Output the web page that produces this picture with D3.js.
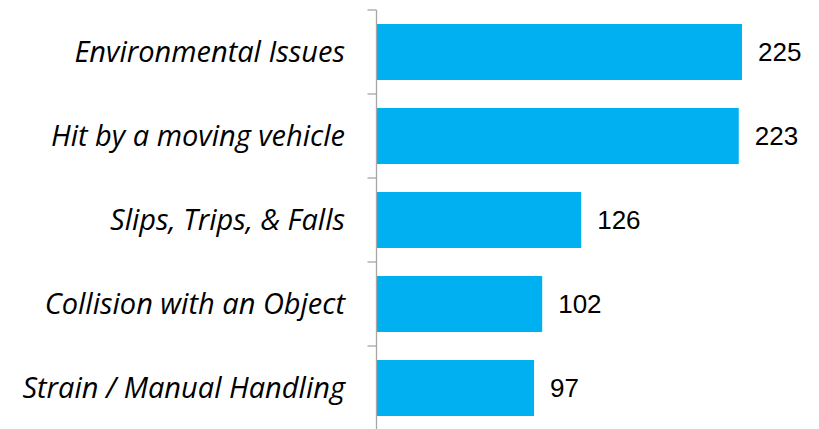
<!DOCTYPE html>
<html>
<head>
<meta charset="utf-8">
<script src="https://cdn.jsdelivr.net/npm/d3@7"></script>
<style>
  body { margin: 0; background: #fff; }
</style>
</head>
<body>
<div id="chart"></div>
<script>
var categories = [
  "Environmental Issues",
  "Hit by a moving vehicle",
  "Slips, Trips, & Falls",
  "Collision with an Object",
  "Strain / Manual Handling"
];
var counts = [225, 223, 126, 102, 97];

var width = 819, height = 429;
var margin = { top: 10, right: 0, bottom: -1, left: 376.5 };

var svg = d3.select("#chart").append("svg")
  .attr("width", width)
  .attr("height", height);

var x = d3.scaleLinear()
  .domain([0, 225])
  .range([margin.left, 742]);

var y = d3.scaleBand()
  .domain(categories)
  .range([margin.top, height - margin.bottom])
  .paddingInner(1 / 3)
  .paddingOuter(1 / 6);

// category boundaries for the tick marks
var step = y.step();
var bounds = d3.range(categories.length + 1).map(function (i) {
  return margin.top + i * step;
});

svg.selectAll("rect.bar")
  .data(counts)
  .enter().append("rect")
  .attr("class", "bar")
  .attr("x", x(0))
  .attr("y", function (d, i) { return y(categories[i]); })
  .attr("width", function (d) { return x(d) - x(0); })
  .attr("height", y.bandwidth())
  .attr("fill", "#00B0F0");

var axisColor = "#A6A6A6";
svg.append("line")
  .attr("x1", x(0)).attr("x2", x(0))
  .attr("y1", margin.top).attr("y2", height)
  .attr("stroke", axisColor)
  .attr("stroke-width", 1.3);

svg.selectAll("line.tick")
  .data(bounds)
  .enter().append("line")
  .attr("class", "tick")
  .attr("x1", x(0) - 9).attr("x2", x(0))
  .attr("y1", function (d) { return d; })
  .attr("y2", function (d) { return d; })
  .attr("stroke", axisColor)
  .attr("stroke-width", 1.3);

svg.selectAll("text.cat")
  .data(categories)
  .enter().append("text")
  .attr("class", "cat")
  .attr("x", 345)
  .attr("y", function (d) { return y(d) + y.bandwidth() / 2; })
  .attr("dy", "0.35em")
  .attr("text-anchor", "end")
  .attr("font-family", "'Open Sans', Lato, sans-serif")
  .attr("font-style", "italic")
  .attr("font-size", 29)
  .attr("fill", "#000")
  .text(function (d) { return d; });

svg.selectAll("text.val")
  .data(counts)
  .enter().append("text")
  .attr("class", "val")
  .attr("x", function (d) { return x(d) + 16; })
  .attr("y", function (d, i) { return y(categories[i]) + y.bandwidth() / 2; })
  .attr("dy", "0.35em")
  .attr("font-family", "'Liberation Sans', Arial, sans-serif")
  .attr("font-size", 26)
  .attr("fill", "#000")
  .text(function (d) { return d; });
</script>
</body>
</html>
